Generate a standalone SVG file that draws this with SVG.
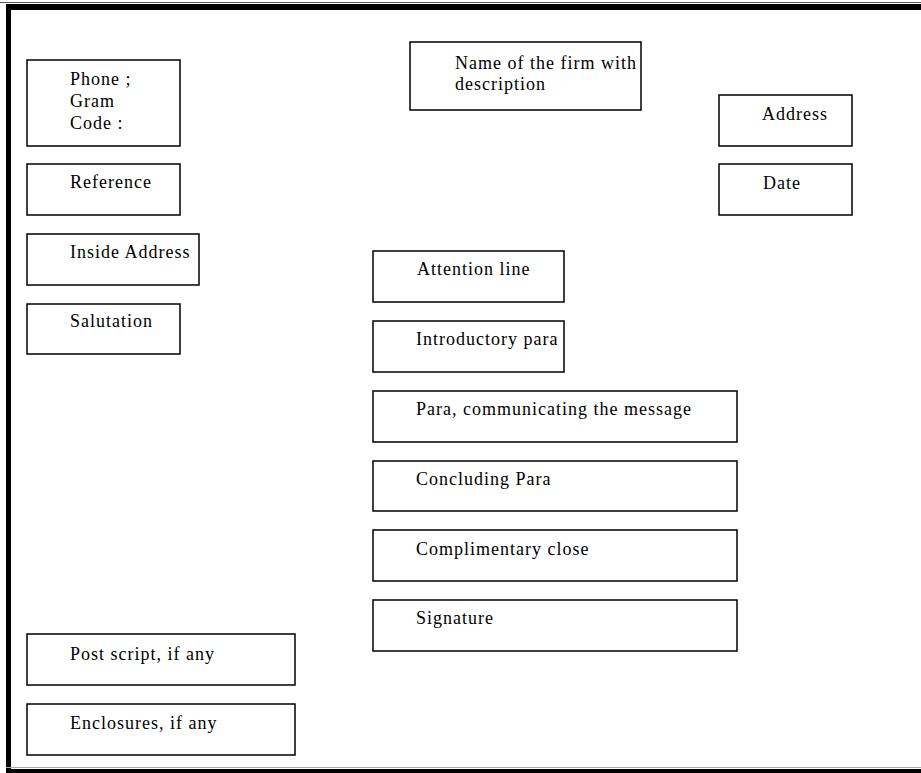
<svg xmlns="http://www.w3.org/2000/svg" width="921" height="773" viewBox="0 0 921 773">
<style>
.b{fill:#fff;stroke:#000;stroke-width:1.5}
.t{font-family:"Liberation Serif","Times New Roman",serif;font-size:18px;letter-spacing:1px;fill:#000}
</style>
<rect width="921" height="773" fill="#fff"/>
<g id="frame">
<line x1="0" y1="2.5" x2="921" y2="2.5" stroke="#555" stroke-width="1"/>
<rect x="6" y="4" width="915" height="6" fill="#000"/>
<rect x="6" y="4" width="5" height="769" fill="#000"/>
<line x1="6" y1="767.5" x2="921" y2="767.5" stroke="#aaa" stroke-width="1"/>
<rect x="6" y="769" width="915" height="4" fill="#000"/>
</g>
<g id="connectors"></g>
<g id="phone"><rect class="b" x="27" y="60" width="153" height="86"/><text class="t" x="70" y="85">Phone ;</text><text class="t" x="70" y="107">Gram</text><text class="t" x="70" y="129">Code :</text></g>
<g id="reference"><rect class="b" x="27" y="164" width="153" height="51"/><text class="t" x="70" y="188">Reference</text></g>
<g id="inside-address"><rect class="b" x="27" y="234" width="172" height="51"/><text class="t" x="70" y="258">Inside Address</text></g>
<g id="salutation"><rect class="b" x="27" y="304" width="153" height="50"/><text class="t" x="70" y="327">Salutation</text></g>
<g id="firm"><rect class="b" x="410" y="42" width="231" height="68"/><text class="t" x="455" y="69">Name of the firm with</text><text class="t" x="455" y="90">description</text></g>
<g id="address"><rect class="b" x="719" y="95" width="133" height="51"/><text class="t" x="762" y="120">Address</text></g>
<g id="date"><rect class="b" x="719" y="164" width="133" height="51"/><text class="t" x="763" y="189">Date</text></g>
<g id="attention"><rect class="b" x="373" y="251" width="191" height="51"/><text class="t" x="417" y="275">Attention line</text></g>
<g id="intro"><rect class="b" x="373" y="321" width="191" height="51"/><text class="t" x="416" y="345">Introductory para</text></g>
<g id="message"><rect class="b" x="373" y="391" width="364" height="51"/><text class="t" x="416" y="415">Para, communicating the message</text></g>
<g id="concluding"><rect class="b" x="373" y="461" width="364" height="50"/><text class="t" x="416" y="485">Concluding Para</text></g>
<g id="complimentary"><rect class="b" x="373" y="530" width="364" height="51"/><text class="t" x="416" y="555">Complimentary close</text></g>
<g id="signature"><rect class="b" x="373" y="600" width="364" height="51"/><text class="t" x="416" y="624">Signature</text></g>
<g id="postscript"><rect class="b" x="27" y="634" width="268" height="51"/><text class="t" x="70" y="660">Post script, if any</text></g>
<g id="enclosures"><rect class="b" x="27" y="704" width="268" height="51"/><text class="t" x="70" y="729">Enclosures, if any</text></g>
</svg>
